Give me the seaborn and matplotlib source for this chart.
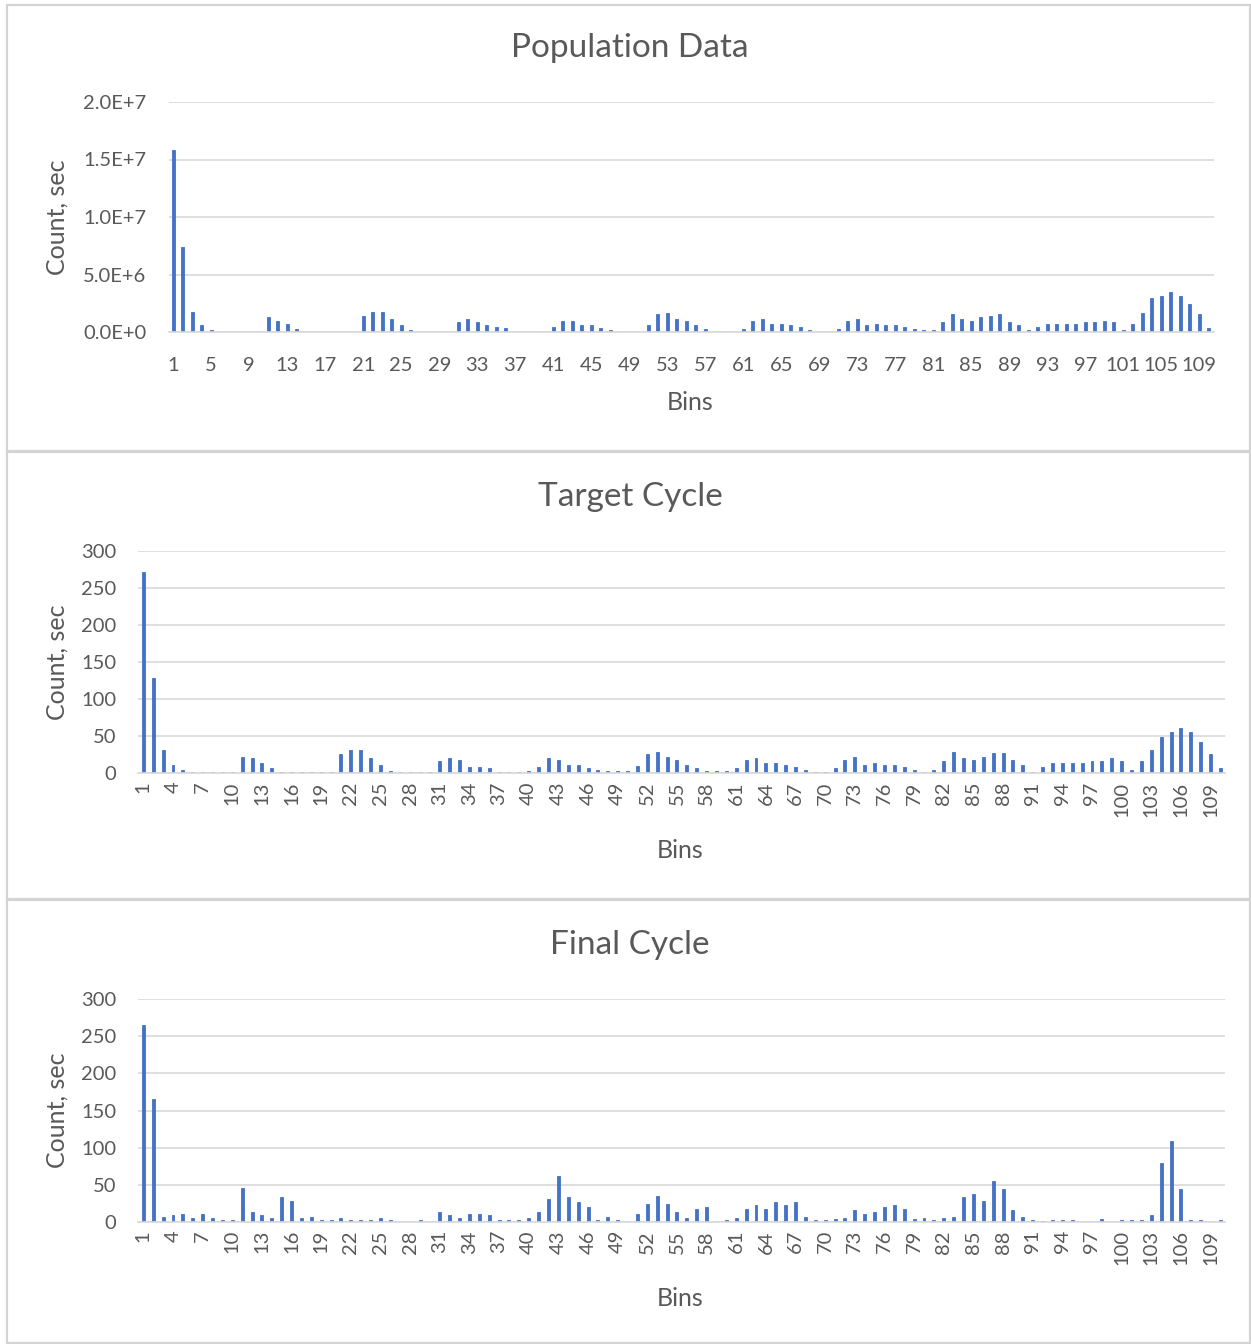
import numpy as np
import pandas as pd
import matplotlib
matplotlib.use("Agg")
import matplotlib.pyplot as plt
import seaborn as sns
from matplotlib.patches import Rectangle

# ---------------- data ----------------
bins = list(range(1, 111))

population_millions = [
    15.8, 7.4, 1.7, 0.6, 0.2, 0, 0, 0, 0, 0,
    1.27, 1.0, 0.72, 0.3, 0, 0, 0, 0, 0, 0,
    1.4, 1.7, 1.7, 1.13, 0.58, 0.2, 0, 0, 0, 0,
    0.87, 1.13, 0.87, 0.58, 0.43, 0.32, 0, 0, 0, 0,
    0.43, 0.95, 0.95, 0.58, 0.58, 0.35, 0.2, 0, 0, 0,
    0.58, 1.53, 1.68, 1.13, 1.0, 0.58, 0.3, 0, 0, 0,
    0.3, 1.0, 1.13, 0.72, 0.72, 0.58, 0.43, 0.2, 0, 0,
    0.3, 0.95, 1.13, 0.58, 0.72, 0.58, 0.58, 0.43, 0.3, 0.2,
    0.2, 0.87, 1.56, 1.13, 1.0, 1.27, 1.4, 1.56, 0.87, 0.58,
    0.2, 0.43, 0.72, 0.72, 0.72, 0.72, 0.87, 0.87, 1.0, 0.87,
    0.2, 0.72, 1.68, 2.95, 3.1, 3.5, 3.1, 2.4, 1.56, 0.32,
]
population = [v * 1e6 for v in population_millions]

target_cycle = [
    271, 128, 31, 11, 5, 2, 2, 2, 2, 2,
    21.5, 20, 13.5, 7, 2, 2, 2, 2, 2, 2,
    26.5, 31, 31, 20, 11, 3, 2, 2, 2, 2,
    16, 20, 18, 9, 9, 7, 2, 2, 2, 3,
    9, 20, 18, 11, 11, 7, 4.5, 3, 3, 3,
    10, 26.5, 29, 22, 18, 11, 7, 3, 3, 3,
    7, 18, 20, 13.5, 13.5, 11, 9, 4.5, 2, 2,
    7, 18, 22, 11, 13.5, 11, 11, 9, 4.5, 2,
    4.5, 16, 29, 20, 18, 22, 27, 27, 18, 11,
    2, 9, 13.5, 13.5, 13.5, 13.5, 16, 16, 20, 16,
    5, 16, 31, 49, 55, 61, 55, 42, 26.5, 7,
]

final_cycle = [
    265, 165, 7, 9, 11, 4.5, 11, 4.5, 2, 2,
    46, 13.5, 9, 4.5, 33, 28, 4.5, 7, 2, 2,
    4.5, 2, 2, 2, 4.5, 2, 0, 0, 2, 0,
    13.5, 9, 4.5, 11, 11, 9, 2, 2, 2, 4.5,
    13.5, 31, 61, 33, 26.5, 20, 2, 7, 2, 0,
    11, 24, 35, 24, 13.5, 4.5, 17.5, 20, 0, 2,
    4.5, 17.5, 22, 17.5, 26.5, 22, 26.5, 7, 2, 2,
    3, 4.5, 16, 11, 13.5, 20, 22, 17.5, 3, 4.5,
    2, 4.5, 7, 33, 37, 28, 55, 44, 16, 7,
    2, 1, 2, 2, 2, 0, 0, 3, 0, 2,
    2, 2, 8.5, 79, 108.5, 43.6, 2, 2, 0, 2,
]

titles = ["Population Data", "Target Cycle", "Final Cycle"]
pop_yticks = [0, 5e6, 1e7, 1.5e7, 2e7]
pop_yticklabels = ["0.0E+0", "5.0E+6", "1.0E+7", "1.5E+7", "2.0E+7"]
cycle_yticks = [0, 50, 100, 150, 200, 250, 300]
cycle_yticklabels = ["0", "50", "100", "150", "200", "250", "300"]

assert len(population) == len(target_cycle) == len(final_cycle) == len(bins) == 110

# ---------------- style ----------------
sns.set_theme(style="white")
plt.rcParams['font.family'] = ['Lato', 'DejaVu Sans']
TXT = "#595959"
GRID = "#d9d9d9"
BAR = "#4472C4"

W, H = 1251, 1344
fig = plt.figure(figsize=(W / 100, H / 100), dpi=100)
fig.patch.set_facecolor("white")

def fx(px):
    return px / W

def fy(py):
    return 1 - py / H

# panel frames
for (x0, y0, x1, y1) in [(7, 5, 1250, 451), (7, 452, 1250, 899), (7, 900, 1250, 1343)]:
    fig.add_artist(Rectangle((fx(x0), fy(y1)), fx(x1 - x0), (y1 - y0) / H,
                             transform=fig.transFigure, fill=False,
                             edgecolor="#d4d4d4", linewidth=1.6))

panels = [
    dict(vals=population, box=(168.5, 102, 1213.5, 332), yt=pop_yticks, ytl=pop_yticklabels,
         ylim=2e7, step=4, rot=0, title_y=48, ylab_x=57, xlab_y=402, xlab_x=690, tickpad=18),
    dict(vals=target_cycle, box=(138.4, 550.7, 1225.4, 773.3), yt=cycle_yticks, ytl=cycle_yticklabels,
         ylim=300, step=3, rot=90, title_y=497, ylab_x=57, xlab_y=850, xlab_x=680, tickpad=6),
    dict(vals=final_cycle, box=(138.4, 999.3, 1225.4, 1221.7), yt=cycle_yticks, ytl=cycle_yticklabels,
         ylim=300, step=3, rot=90, title_y=945, ylab_x=57, xlab_y=1298, xlab_x=680, tickpad=6),
]

for title, p in zip(titles, panels):
    x0, y0, x1, y1 = p["box"]
    ax = fig.add_axes([fx(x0), fy(y1), fx(x1 - x0), (y1 - y0) / H])
    df = pd.DataFrame({"Bins": bins, "Count": p["vals"]})
    sns.barplot(data=df, x="Bins", y="Count", color=BAR, saturation=1,
                width=0.3, ax=ax, errorbar=None, edgecolor=BAR, linewidth=0.6)
    ax.set_xlim(-0.5, len(bins) - 0.5)
    ax.set_ylim(0, p["ylim"])
    ax.set_yticks(p["yt"])
    ax.set_yticklabels(p["ytl"])
    pos = list(range(0, len(bins), p["step"]))
    ax.set_xticks(pos)
    ax.set_xticklabels([str(bins[i]) for i in pos], rotation=p["rot"])
    ax.yaxis.grid(True, color=GRID, linewidth=1.2)
    ax.xaxis.grid(False)
    ax.set_axisbelow(True)
    for s in ["top", "left", "right"]:
        ax.spines[s].set_visible(False)
    ax.spines["bottom"].set_color(GRID)
    ax.spines["bottom"].set_linewidth(1.2)
    ax.tick_params(axis="both", length=0, colors=TXT, labelsize=14.5)
    ax.tick_params(axis="y", pad=16)
    ax.tick_params(axis="x", pad=p["tickpad"])
    ax.set_facecolor("white")

    ax.set_ylabel("Count, sec", fontsize=18, color=TXT)
    ax.set_xlabel("Bins", fontsize=18, color=TXT)
    wpx = x1 - x0
    hpx = y1 - y0
    ax.yaxis.set_label_coords((p["ylab_x"] - x0) / wpx, 0.5)
    ax.xaxis.set_label_coords((p["xlab_x"] - x0) / wpx, -(p["xlab_y"] - y1) / hpx)
    ax.xaxis.label.set_verticalalignment("center")
    ax.yaxis.label.set_verticalalignment("center")

    fig.text(fx(630), fy(p["title_y"]), title, ha="center", va="center",
             fontsize=24, color=TXT)

fig.savefig("out.png", dpi=100, facecolor="white")
